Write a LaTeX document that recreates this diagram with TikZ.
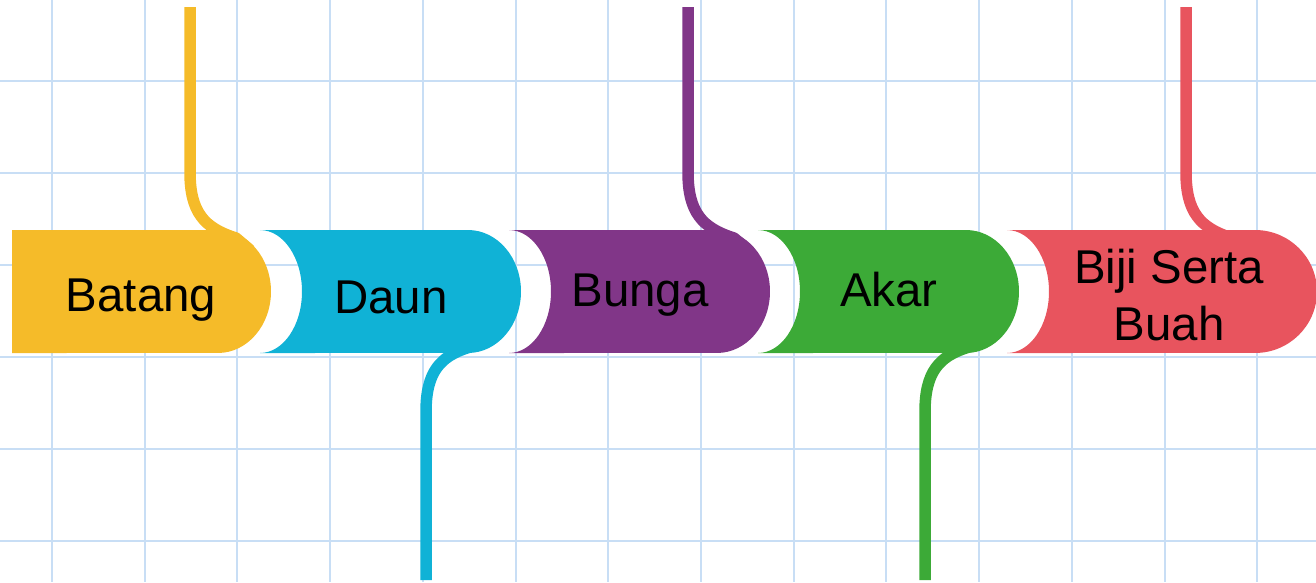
\documentclass[tikz,border=0pt]{standalone}
\usepackage{fontspec}
\setmainfont{Liberation Sans}
\definecolor{gridblue}{RGB}{200,222,245}
\definecolor{ybatang}{RGB}{245,187,41}
\definecolor{cdaun}{RGB}{16,178,214}
\definecolor{pbunga}{RGB}{129,54,136}
\definecolor{gakar}{RGB}{60,170,55}
\definecolor{rbiji}{RGB}{232,84,94}

\begin{document}
\begin{tikzpicture}[x=0.02cm,y=-0.02cm,
  gridline/.style={gridblue,line width=0.04cm},
  stem/.style={line width=0.23cm,line join=round},
  parttext/.style={font=\fontsize{27}{32.4}\selectfont,text=black,inner sep=0pt}]
\useasboundingbox (0,0) rectangle (1316,582);
\foreach \gx in {0,...,13} \draw[gridline] ({52+92.72*\gx},0) -- ({52+92.72*\gx},582);
\foreach \gy in {0,...,5} \draw[gridline] (0,{80.6+92.1*\gy}) -- (1316,{80.6+92.1*\gy});

\fill[ybatang] (12,230) -- (218,230) arc[start angle=90,end angle=-90,x radius=1.06cm,y radius=1.23cm] -- (12,353) -- cycle;
\fill[cdaun] (260,230) -- (468,230) arc[start angle=90,end angle=-90,x radius=1.06cm,y radius=1.23cm] -- (260,353) arc[start angle=-90,end angle=90,x radius=0.84cm,y radius=1.23cm] -- cycle;
\fill[pbunga] (509,230) -- (717,230) arc[start angle=90,end angle=-90,x radius=1.06cm,y radius=1.23cm] -- (509,353) arc[start angle=-90,end angle=90,x radius=0.84cm,y radius=1.23cm] -- cycle;
\fill[gakar] (758,230) -- (966,230) arc[start angle=90,end angle=-90,x radius=1.06cm,y radius=1.23cm] -- (758,353) arc[start angle=-90,end angle=90,x radius=0.84cm,y radius=1.23cm] -- cycle;
\fill[rbiji] (1007,230) -- (1255,230) arc[start angle=90,end angle=-90,x radius=1.24cm,y radius=1.23cm] -- (1007,353) arc[start angle=-90,end angle=90,x radius=0.84cm,y radius=1.23cm] -- cycle;

\coordinate (batang end) at (190,7);
\coordinate (daun end) at (426,580);
\coordinate (bunga end) at (688,7);
\coordinate (akar end) at (925,580);
\coordinate (biji end) at (1186,7);

\draw[stem,ybatang] (batang end) -- (190,172) .. controls (190,212) and (204,228) .. (236,238) -- (250,250);
\draw[stem,cdaun] (daun end) -- (426,412) .. controls (426,372) and (440,356) .. (470,347) -- (484,335);
\draw[stem,pbunga] (bunga end) -- (688,172) .. controls (688,212) and (702,228) .. (734,238) -- (748,250);
\draw[stem,gakar] (akar end) -- (925,412) .. controls (925,372) and (939,356) .. (969,347) -- (983,335);
\draw[stem,rbiji] (biji end) -- (1186,172) .. controls (1186,212) and (1200,228) .. (1232,238) -- (1246,250);

\node[parttext,anchor=base] (batang) at (141,311) {Batang};
\node[parttext,anchor=base] (daun) at (391,313) {Daun};
\node[parttext,anchor=base] (bunga) at (640,306) {Bunga};
\node[parttext,anchor=base] (akar) at (889,306) {Akar};
\node[parttext,align=center] (biji) at (1169,295) {Biji Serta\\Buah};
\end{tikzpicture}
\end{document}
